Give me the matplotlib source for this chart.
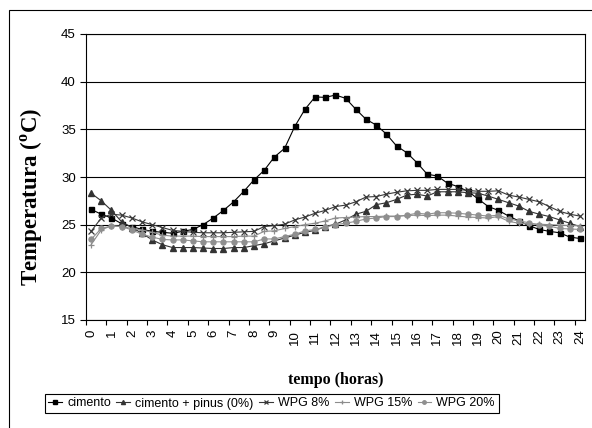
#!/usr/bin/env python3
"""
Temperatura ao longo do dia - cimento vs. compositos WPG
"""

import numpy as np
import matplotlib
matplotlib.use('Agg')
import matplotlib.pyplot as plt
from matplotlib.patches import Rectangle

# leituras a cada meia hora (0 .. 24 h)
horas = np.arange(49) / 2.0

cimento = [26.6, 26.1, 25.7, 25.1, 24.8, 24.5, 24.3, 24.2, 24.1, 24.3,
           24.5, 25.0, 25.7, 26.5, 27.4, 28.5, 29.7, 30.7, 32.1, 33.0,
           35.3, 37.1, 38.4, 38.35, 38.6, 38.25, 37.1, 36.05, 35.45, 34.5,
           33.25, 32.55, 31.5, 30.3, 30.1, 29.35, 29.0, 28.5, 27.7, 26.9,
           26.5, 25.9, 25.4, 24.9, 24.5, 24.3, 24.15, 23.7, 23.55]

cimento_pinus = [28.3, 27.5, 26.5, 25.3, 24.7, 24.1, 23.4, 22.9, 22.6, 22.6,
                 22.6, 22.55, 22.5, 22.5, 22.6, 22.6, 22.8, 23.0, 23.3, 23.6,
                 23.9, 24.2, 24.4, 24.8, 25.05, 25.5, 26.1, 26.4, 27.1, 27.3,
                 27.65, 28.1, 28.2, 28.0, 28.45, 28.45, 28.45, 28.35, 28.3, 28.0,
                 27.65, 27.3, 26.95, 26.4, 26.1, 25.85, 25.5, 25.15, 24.8]

wpg8 = [24.3, 25.7, 26.1, 26.0, 25.7, 25.3, 25.0, 24.7, 24.4, 24.3,
        24.2, 24.15, 24.15, 24.15, 24.2, 24.25, 24.3, 24.8, 24.9, 25.05,
        25.5, 25.8, 26.2, 26.5, 26.9, 27.05, 27.4, 27.9, 27.95, 28.2,
        28.4, 28.55, 28.6, 28.6, 28.7, 28.7, 28.7, 28.6, 28.5, 28.5,
        28.55, 28.1, 27.9, 27.65, 27.4, 26.9, 26.4, 26.1, 25.9]

wpg15 = [22.9, 24.45, 24.9, 24.8, 24.6, 24.45, 24.2, 23.9, 23.8, 23.8,
         23.8, 23.75, 23.75, 23.75, 23.75, 23.8, 23.8, 24.3, 24.35, 24.6,
         24.8, 25.0, 25.15, 25.4, 25.7, 25.75, 25.8, 25.85, 25.85, 25.9,
         25.9, 25.95, 26.0, 25.95, 26.0, 26.0, 25.9, 25.8, 25.75, 25.7,
         25.85, 25.35, 25.15, 25.1, 25.05, 25.0, 24.95, 24.9, 24.9]

wpg20 = [23.45, 24.6, 24.85, 24.8, 24.45, 24.0, 23.7, 23.45, 23.4, 23.4,
         23.3, 23.2, 23.2, 23.2, 23.2, 23.2, 23.2, 23.5, 23.5, 23.75,
         24.0, 24.35, 24.5, 24.75, 25.0, 25.15, 25.35, 25.6, 25.7, 25.85,
         25.85, 26.0, 26.2, 26.1, 26.25, 26.25, 26.2, 26.1, 26.0, 25.9,
         26.0, 25.6, 25.4, 25.2, 24.95, 24.85, 24.6, 24.55, 24.5]

rotulos_horas = [str(h) for h in range(25)]

plt.rcParams['font.family'] = 'Liberation Sans'
plt.rcParams['mathtext.fontset'] = 'custom'
plt.rcParams['mathtext.rm'] = 'Liberation Serif'
plt.rcParams['mathtext.bf'] = 'Liberation Serif:bold'

fig = plt.figure(figsize=(5.92, 4.28), dpi=100)
ax = fig.add_axes([86 / 592, 1 - 320 / 428, (585 - 86) / 592, (320 - 34) / 428])

ax.plot(horas, cimento, '-s', color='black', lw=0.8, ms=3.6, label='cimento')
ax.plot(horas, cimento_pinus, '-^', color='#333333', lw=0.8, ms=4.2,
        label='cimento + pinus (0%)')
ax.plot(horas, wpg8, '-x', color='#383838', lw=0.8, ms=4.2, mew=0.9,
        label='WPG 8%')
ax.plot(horas, wpg15, '-+', color='#8c8c8c', lw=0.8, ms=5, mew=0.9,
        label='WPG 15%')
ax.plot(horas, wpg20, '-o', color='#8f8f8f', lw=0.8, ms=3.6, label='WPG 20%')

ax.set_ylim(15, 45)
ax.set_yticks(range(15, 46, 5))
ax.yaxis.grid(True, color='black', lw=0.8)
ax.set_axisbelow(True)
ax.tick_params(axis='y', direction='out', length=4.3, width=0.8,
               labelsize=9.5, pad=3)

ax.set_xlim(-0.25, 24.25)
ax.set_xticks(range(25))
ax.set_xticklabels(rotulos_horas, rotation=90)
ax.set_xticks(np.arange(25) - 0.25, minor=True)
ax.tick_params(axis='x', which='major', length=0, labelsize=9.5, pad=7)
ax.tick_params(axis='x', which='minor', direction='out', length=3.8, width=0.8)

for s in ax.spines.values():
    s.set_linewidth(0.8)
    s.set_color('black')

fig.text(32 / 592, 1 - 197 / 428, r'Temperatura ($^{\mathbf{o}}$C)',
         family='Liberation Serif', weight='bold', fontsize=16.5,
         rotation=90, ha='center', va='center')
fig.text(335.5 / 592, 1 - 380 / 428, 'tempo (horas)',
         family='Liberation Serif', weight='bold', fontsize=11.5,
         ha='center', va='center')

leg = fig.legend(loc='center', bbox_to_anchor=(271.5 / 592, 1 - 403.5 / 428),
                 ncol=5, fontsize=9, fancybox=False, framealpha=1,
                 edgecolor='black', handlelength=1.1, handletextpad=0.4,
                 columnspacing=0.45, borderpad=0.3, borderaxespad=0,
                 markerscale=0.7)
leg.get_frame().set_linewidth(0.8)

# borda da area do grafico (cortada a direita e em baixo)
fig.patches.append(Rectangle((9 / 592, -0.1), 1.2, 1.1 - 10 / 428,
                             transform=fig.transFigure, fill=False,
                             edgecolor='black', lw=0.8))

fig.savefig('out.png', dpi=100)
